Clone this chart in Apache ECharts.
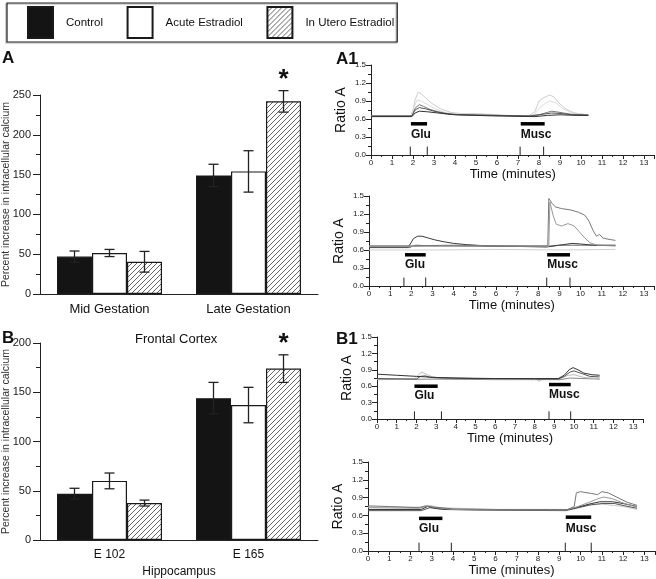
<!DOCTYPE html>
<html>
<head>
<meta charset="utf-8">
<script src="https://cdn.jsdelivr.net/npm/echarts@6/dist/echarts.min.js"></script>
<style>
html, body { margin: 0; padding: 0; background: #fff; }
#main { width: 656px; height: 579px; }
</style>
</head>
<body>
<div id="main"></div>
<script>
var FONT = 'Liberation Sans, Arial, sans-serif';
var BAR_W = 35;

// bar charts
var seriesNames = ['Control', 'Acute Estradiol', 'In Utero Estradiol'];
var groupsA = ['Mid Gestation', 'Late Gestation'];
var controlA = [47, 149];
var acuteA = [51.5, 154];
var uteroA = [40.5, 242];
var controlErrA = [7, 14];
var acuteErrA = [4.5, 26];
var uteroErrA = [13, 13.5];

var groupsB = ['E 102', 'E 165'];
var controlB = [47, 144];
var acuteB = [60, 137];
var uteroB = [37.5, 174];
var controlErrB = [5.5, 16];
var acuteErrB = [8, 18];
var uteroErrB = [3, 14];

// significance marks: [group index, bar index]
var starA = [[1, 2]];
var starB = [[1, 2]];

// ratio axis labels
var ratioTicks = [0, 0.3, 0.6, 0.9, 1.2, 1.5];

// A1 top traces [minutes, ratio]
var a1tTrace1 = [[0,0.65],[1.9,0.65],[2.0,0.75],[2.1,0.92],[2.25,1.05],[2.4,1.02],[2.6,0.95],[2.9,0.86],[3.3,0.77],[3.8,0.71],[4.3,0.69],[5,0.69],[5.5,0.68],[6.5,0.66],[7.5,0.65],[7.8,0.72],[8.0,0.9],[8.2,0.95],[8.5,1.0],[8.7,0.97],[9.0,0.85],[9.3,0.76],[9.7,0.7],[10.35,0.67]];
var a1tTrace2 = [[0,0.64],[1.9,0.64],[2.05,0.8],[2.2,0.92],[2.4,0.9],[2.7,0.84],[3.1,0.76],[3.6,0.7],[4.2,0.68],[5,0.68],[6,0.66],[7.5,0.65],[7.8,0.68],[8.0,0.78],[8.3,0.86],[8.5,0.9],[8.8,0.87],[9.1,0.78],[9.5,0.71],[10,0.68],[10.35,0.67]];
var a1tTrace3 = [[0,0.65],[1.95,0.65],[2.1,0.78],[2.3,0.84],[2.5,0.81],[2.8,0.76],[3.2,0.72],[3.8,0.68],[4.5,0.67],[6,0.66],[7.5,0.65],[8,0.67],[8.4,0.71],[8.6,0.73],[9,0.71],[9.5,0.68],[10.35,0.67]];
var a1tTrace4 = [[0,0.65],[1.95,0.65],[2.1,0.75],[2.3,0.79],[2.6,0.77],[3,0.73],[3.5,0.69],[4.2,0.67],[6,0.66],[7.6,0.65],[8.2,0.68],[8.6,0.7],[9.1,0.69],[9.6,0.67],[10.35,0.66]];
var a1tTrace5 = [[0,0.64],[1.95,0.64],[2.1,0.7],[2.3,0.73],[2.7,0.72],[3.2,0.7],[4,0.67],[6,0.65],[7.8,0.64],[8.4,0.66],[9,0.67],[9.8,0.66],[10.35,0.66]];

// A1 bottom traces
var a1bTrace1 = [[0,0.65],[1.85,0.65],[1.95,0.7],[2.1,0.79],[2.3,0.83],[2.5,0.83],[2.8,0.8],[3.1,0.77],[3.5,0.74],[4,0.71],[4.6,0.69],[5.5,0.67],[7,0.66],[8.4,0.65],[9,0.68],[9.6,0.71],[10,0.7],[10.6,0.68],[11.65,0.67]];
var a1bTrace2 = [[0,0.67],[2,0.67],[4,0.68],[6,0.67],[8.45,0.67],[8.5,1.46],[8.65,1.38],[8.8,1.32],[9.1,1.29],[9.5,1.27],[9.9,1.23],[10.2,1.18],[10.4,1.08],[10.6,0.92],[10.75,0.83],[10.9,0.86],[11.05,0.8],[11.3,0.78],[11.65,0.76]];
var a1bTrace3 = [[0,0.66],[2,0.66],[5,0.67],[8.5,0.66],[8.55,1.4],[8.7,1.18],[8.85,1.03],[9.1,1.0],[9.4,1.04],[9.7,1.0],[9.95,0.9],[10.2,0.8],[10.45,0.72],[10.8,0.68],[11.65,0.68]];
var a1bTrace4 = [[0,0.6],[3,0.6],[6,0.61],[9,0.6],[11.65,0.61]];
var a1bTrace5 = [[0,0.64],[1.9,0.64],[2.2,0.68],[3,0.67],[6,0.66],[8.4,0.66],[9,0.68],[10,0.68],[11.65,0.68]];

// B1 top traces
var b1tTrace1 = [[0,0.82],[1,0.8],[2,0.78],[3,0.76],[4,0.75],[6,0.74],[8,0.74],[9.2,0.74],[9.5,0.8],[9.75,0.9],[9.95,0.94],[10.2,0.9],[10.5,0.84],[10.9,0.81],[11.3,0.8]];
var b1tTrace2 = [[0,0.74],[2,0.73],[2.2,0.78],[2.45,0.79],[2.7,0.76],[3.2,0.75],[5,0.74],[8,0.73],[9.2,0.73],[9.5,0.78],[9.8,0.86],[10,0.88],[10.4,0.83],[10.8,0.78],[11.3,0.77]];
var b1tTrace3 = [[0,0.73],[1.9,0.73],[2.1,0.8],[2.25,0.86],[2.5,0.82],[2.8,0.77],[3.3,0.75],[5,0.74],[8.1,0.72],[8.25,0.69],[8.4,0.73],[9.3,0.74],[9.7,0.8],[10,0.81],[10.5,0.76],[11.3,0.74]];
var b1tTrace4 = [[0,0.72],[3,0.73],[6,0.72],[9.3,0.72],[9.8,0.75],[10.4,0.74],[11.3,0.73]];

// B1 bottom traces
var b1bTrace1 = [[0,0.76],[1,0.75],[2.4,0.73],[2.7,0.76],[3.1,0.74],[4,0.71],[6,0.7],[9.4,0.7],[9.7,0.75],[9.8,0.98],[10,1.0],[10.5,0.97],[10.8,0.95],[11.0,1.0],[11.3,0.98],[11.8,0.89],[12.2,0.82],[12.65,0.77]];
var b1bTrace2 = [[0,0.73],[2.4,0.72],[2.8,0.76],[3.2,0.73],[4,0.7],[9.3,0.69],[9.8,0.74],[10.4,0.82],[10.8,0.88],[11.1,0.91],[11.5,0.88],[12,0.81],[12.65,0.74]];
var b1bTrace3 = [[0,0.7],[2.5,0.7],[2.8,0.75],[3.2,0.72],[4,0.7],[9.3,0.69],[9.8,0.73],[10.4,0.79],[10.9,0.83],[11.5,0.83],[12,0.8],[12.65,0.75]];
var b1bTrace4 = [[0,0.68],[2.5,0.68],[2.9,0.73],[3.5,0.7],[5,0.69],[9.3,0.68],[9.9,0.73],[10.5,0.78],[11,0.8],[11.6,0.8],[12.1,0.76],[12.65,0.72]];
var b1bTrace5 = [[0,0.74],[2.6,0.74],[2.9,0.77],[3.4,0.73],[6,0.7],[9.4,0.7],[10,0.76],[11,0.79],[12,0.75],[12.65,0.7]];

// drug application: [start, end, bar level, label level]
var stimNames = ['Glu', 'Musc'];
var a1tStim = [[1.9, 2.67, 0.52, 0.34], [7.13, 8.27, 0.52, 0.34]];
var a1bStim = [[1.7, 2.68, 0.52, 0.36], [8.42, 9.5, 0.52, 0.36]];
var b1tStim = [[1.9, 3.08, 0.6, 0.42], [8.73, 9.83, 0.63, 0.44]];
var b1bStim = [[2.4, 3.5, 0.55, 0.38], [9.3, 10.5, 0.57, 0.38]];

// short event marks on the time axis
var a1tMarks = [1.87, 2.68, 7.1, 8.22];
var a1bMarks = [1.65, 2.68, 8.4, 9.5];
var b1tMarks = [1.9, 3.27, 8.73, 9.83];
var b1bMarks = [2.4, 3.92, 9.28, 10.5];

function hatch() {
	var c = document.createElement('canvas');
	c.width = 5; c.height = 5;
	var ctx = c.getContext('2d');
	ctx.fillStyle = '#fff';
	ctx.fillRect(0, 0, 5, 5);
	ctx.strokeStyle = '#555';
	ctx.lineWidth = 0.9;
	ctx.beginPath();
	ctx.moveTo(0, 5); ctx.lineTo(5, 0);
	ctx.moveTo(-1, 1); ctx.lineTo(1, -1);
	ctx.moveTo(4, 6); ctx.lineTo(6, 4);
	ctx.stroke();
	return c;
}

var fills = ['#141414', '#ffffff', { image: hatch(), repeat: 'repeat' }];

function makeBars(gi, means) {
	return means.map(function(m, k) {
		return {
			name: seriesNames[k], type: 'bar', xAxisIndex: gi, yAxisIndex: gi,
			data: m, barWidth: BAR_W, barGap: '0%',
			itemStyle: { color: fills[k], borderColor: '#1a1a1a', borderWidth: 1.2 }
		};
	});
}

function makeErr(gi, means, errs) {
	var d = [];
	means.forEach(function(m, k) {
		m.forEach(function(v, c) { d.push([c, k, v, errs[k][c]]); });
	});
	return {
		type: 'custom', xAxisIndex: gi, yAxisIndex: gi, data: d, z: 5, silent: true,
		encode: { x: 0, y: 2 },
		renderItem: function(params, api) {
			var c = api.value(0), k = api.value(1), v = api.value(2), e = api.value(3);
			var x = api.coord([c, v])[0] + (k - 1) * BAR_W;
			var yt = api.coord([c, v + e])[1], yb = api.coord([c, v - e])[1];
			var st = { stroke: '#222', lineWidth: 1.3 };
			return { type: 'group', children: [
				{ type: 'line', shape: { x1: x, y1: yt, x2: x, y2: yb }, style: st },
				{ type: 'line', shape: { x1: x - 5, y1: yt, x2: x + 5, y2: yt }, style: st },
				{ type: 'line', shape: { x1: x - 5, y1: yb, x2: x + 5, y2: yb }, style: st }
			] };
		}
	};
}

function makeStar(gi, marks, means, errs) {
	var d = marks.map(function(s) {
		return [s[0], s[1], means[s[1]][s[0]] + errs[s[1]][s[0]]];
	});
	return {
		type: 'custom', xAxisIndex: gi, yAxisIndex: gi, data: d, z: 6, silent: true,
		encode: { x: 0, y: 2 },
		renderItem: function(params, api) {
			var p = api.coord([api.value(0), api.value(2)]);
			return { type: 'text', x: p[0] + (api.value(1) - 1) * BAR_W, y: p[1] + 2,
				style: { text: '*', fontSize: 26, fontWeight: 'bold', fontFamily: FONT, fill: '#111',
					align: 'center', verticalAlign: 'bottom' } };
		}
	};
}

function makeTraces(gi, traces, colors) {
	return traces.map(function(t, i) {
		return {
			type: 'line', xAxisIndex: gi, yAxisIndex: gi, data: t, showSymbol: false,
			silent: true, z: 3 + i * 0.01,
			lineStyle: { color: colors[i], width: 1 }
		};
	});
}

function makeStim(gi, stim) {
	return {
		type: 'custom', xAxisIndex: gi, yAxisIndex: gi, data: stim, silent: true, z: 8,
		encode: { x: [0, 1], y: 2 },
		renderItem: function(params, api) {
			var a = api.coord([api.value(0), api.value(2)]);
			var b = api.coord([api.value(1), api.value(2)]);
			var l = api.coord([api.value(0), api.value(3)]);
			return { type: 'group', children: [
				{ type: 'line', shape: { x1: a[0], y1: a[1], x2: b[0], y2: b[1] },
					style: { stroke: '#000', lineWidth: 3.5 } },
				{ type: 'text', x: l[0], y: l[1], style: { text: stimNames[params.dataIndex],
					fontSize: 12, fontWeight: 'bold', fontFamily: FONT, fill: '#111',
					align: 'left', verticalAlign: 'middle' } }
			] };
		}
	};
}

function makeMarks(gi, marks) {
	return {
		type: 'custom', xAxisIndex: gi, yAxisIndex: gi, silent: true, z: 8,
		data: marks.map(function(m) { return [m, 0]; }),
		encode: { x: 0, y: 1 },
		renderItem: function(params, api) {
			var a = api.coord([api.value(0), 0]);
			var b = api.coord([api.value(0), 0.14]);
			return { type: 'line', shape: { x1: a[0], y1: a[1], x2: b[0], y2: b[1] },
				style: { stroke: '#222', lineWidth: 1 } };
		}
	};
}

var axisColor = '#222';

function catAxis(gi, cats, fontSize, name) {
	return {
		type: 'category', gridIndex: gi, data: cats,
		name: name || '', nameLocation: 'middle', nameGap: 26, nameMoveOverlap: false,
		nameTextStyle: { fontFamily: FONT, fontSize: 12, color: '#111' },
		axisLine: { lineStyle: { color: axisColor, width: 1 } },
		axisTick: { length: 6, lineStyle: { color: axisColor } },
		axisLabel: { fontFamily: FONT, fontSize: fontSize, color: '#111', margin: 9 }
	};
}

function pctAxis(gi, max) {
	return {
		type: 'value', gridIndex: gi, min: 0, max: max, interval: 50,
		name: 'Percent increase in intracellular calcium', nameLocation: 'middle', nameGap: 28,
		nameMoveOverlap: false,
		nameTextStyle: { fontFamily: FONT, fontSize: 10.5, color: '#333' },
		axisLine: { show: true, lineStyle: { color: axisColor } },
		axisTick: { show: true, length: 7, lineStyle: { color: axisColor } },
		minorTick: { show: true, splitNumber: 2, length: 4, lineStyle: { color: axisColor } },
		axisLabel: { fontFamily: FONT, fontSize: 11, color: '#222', margin: 9 },
		splitLine: { show: false }
	};
}

function timeAxis(gi) {
	return {
		type: 'value', gridIndex: gi, min: 0, max: 13.5, interval: 1,
		name: 'Time (minutes)', nameLocation: 'middle', nameGap: 13, nameMoveOverlap: false,
		nameTextStyle: { fontFamily: FONT, fontSize: 13, color: '#111' },
		axisLine: { lineStyle: { color: axisColor } },
		axisTick: { length: 4, lineStyle: { color: axisColor } },
		minorTick: { show: true, splitNumber: 2, length: 2, lineStyle: { color: axisColor } },
		axisLabel: { fontFamily: FONT, fontSize: 8, color: '#222', margin: 4, showMaxLabel: false },
		splitLine: { show: false }
	};
}

function ratioAxis(gi) {
	return {
		type: 'value', gridIndex: gi, min: ratioTicks[0], max: ratioTicks[ratioTicks.length - 1],
		interval: ratioTicks[1] - ratioTicks[0],
		name: 'Ratio A', nameLocation: 'middle', nameGap: 23, nameMoveOverlap: false,
		nameTextStyle: { fontFamily: FONT, fontSize: 14, color: '#111' },
		axisLine: { show: true, lineStyle: { color: axisColor } },
		axisTick: { show: true, length: 5, lineStyle: { color: axisColor } },
		minorTick: { show: true, splitNumber: 2, length: 3, lineStyle: { color: axisColor } },
		axisLabel: { fontFamily: FONT, fontSize: 8, color: '#222', margin: 5,
			formatter: function(v) { return v.toFixed(1); } },
		splitLine: { show: false }
	};
}

function panelTitle(text, left, top) {
	return { text: text, left: left, top: top, padding: 0,
		textStyle: { fontFamily: FONT, fontSize: 17, fontWeight: 'bold', color: '#111' } };
}

var meansA = [controlA, acuteA, uteroA], errsA = [controlErrA, acuteErrA, uteroErrA];
var meansB = [controlB, acuteB, uteroB], errsB = [controlErrB, acuteErrB, uteroErrB];

var gridBase = { outerBoundsMode: 'none', containLabel: false };

var option = {
	animation: false,
	backgroundColor: '#fff',
	title: [
		panelTitle('A', 2, 50),
		panelTitle('B', 2, 330),
		panelTitle('A1', 336, 51),
		panelTitle('B1', 336, 331),
		{ text: 'Frontal Cortex', left: 135, top: 333, padding: 0,
			textStyle: { fontFamily: FONT, fontSize: 13, fontWeight: 'normal', color: '#111' } }
	],
	legend: {
		data: seriesNames, left: 7, top: 3, orient: 'horizontal', icon: 'rect',
		itemWidth: 25, itemHeight: 31, itemGap: 23.5, padding: [3, 3, 3, 20],
		borderColor: '#222', borderWidth: 1.2, selectedMode: false,
		shadowColor: 'rgba(0,0,0,0.35)', shadowBlur: 1, shadowOffsetX: -1, shadowOffsetY: 1,
		textStyle: { fontFamily: FONT, fontSize: 11.5, color: '#111', padding: [0, 0, 0, 8] }
	},
	grid: [
		Object.assign({ left: 40, top: 95, width: 278, height: 199 }, gridBase),
		Object.assign({ left: 40, top: 343, width: 278, height: 197 }, gridBase),
		Object.assign({ left: 371, top: 65, width: 283.5, height: 90 }, gridBase),
		Object.assign({ left: 369, top: 196, width: 285.6, height: 90 }, gridBase),
		Object.assign({ left: 377, top: 337, width: 266, height: 82 }, gridBase),
		Object.assign({ left: 368, top: 462, width: 287, height: 89 }, gridBase)
	],
	xAxis: [
		catAxis(0, groupsA, 13),
		catAxis(1, groupsB, 12, 'Hippocampus'),
		timeAxis(2), timeAxis(3), timeAxis(4), timeAxis(5)
	],
	yAxis: [
		pctAxis(0, 250), pctAxis(1, 200),
		ratioAxis(2), ratioAxis(3), ratioAxis(4), ratioAxis(5)
	],
	series: [].concat(
		makeBars(0, meansA), [makeErr(0, meansA, errsA), makeStar(0, starA, meansA, errsA)],
		makeBars(1, meansB), [makeErr(1, meansB, errsB), makeStar(1, starB, meansB, errsB)],
		makeTraces(2, [a1tTrace1, a1tTrace2, a1tTrace3, a1tTrace4, a1tTrace5],
			['#cdcdcd', '#dcdcdc', '#777', '#555', '#333']),
		[makeStim(2, a1tStim), makeMarks(2, a1tMarks)],
		makeTraces(3, [a1bTrace4, a1bTrace5, a1bTrace1, a1bTrace3, a1bTrace2],
			['#d0d0d0', '#666', '#3a3a3a', '#9a9a9a', '#7a7a7a']),
		[makeStim(3, a1bStim), makeMarks(3, a1bMarks)],
		makeTraces(4, [b1tTrace4, b1tTrace3, b1tTrace2, b1tTrace1],
			['#888', '#bbb', '#555', '#333']),
		[makeStim(4, b1tStim), makeMarks(4, b1tMarks)],
		makeTraces(5, [b1bTrace5, b1bTrace4, b1bTrace3, b1bTrace2, b1bTrace1],
			['#ccc', '#555', '#333', '#999', '#777']),
		[makeStim(5, b1bStim), makeMarks(5, b1bMarks)]
	)
};

var myChart = echarts.init(document.getElementById('main'));
myChart.setOption(option);
</script>
</body>
</html>
